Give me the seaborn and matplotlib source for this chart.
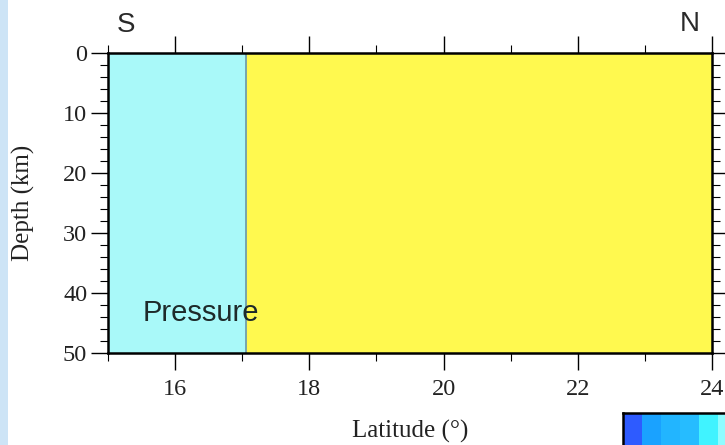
import numpy as np
import matplotlib
matplotlib.use("Agg")
import matplotlib.pyplot as plt
from matplotlib.patches import Rectangle
from matplotlib.colors import ListedColormap
import seaborn as sns

# data
lat_range = [15, 24]
depth_range = [0, 50]
boundary_lat = 17.05
zone_colors = ["#a9f9f9", "#fff94f"]  # pressure side, other side
x_ticks = [16, 18, 20, 22, 24]
y_ticks = [0, 10, 20, 30, 40, 50]
cbar_colors = ["#2e5bff", "#1aa2ff", "#22b5ff", "#26bcff", "#40f3ff", "#8ffcff"]

sns.set_theme(style="ticks")
plt.rcParams["font.family"] = ["Liberation Serif", "DejaVu Serif"]

fig = plt.figure(figsize=(7.25, 4.45), dpi=100)
fig.patch.set_facecolor("white")
# slide background strip on the left edge
fig.patches.append(Rectangle((0, 0), 8 / 725, 1, transform=fig.transFigure,
                             facecolor="#cde4f6", edgecolor="none", zorder=0))

ax = fig.add_axes([108 / 725, 92 / 445, 604 / 725, 300 / 445])

depth = np.array(depth_range)
ax.fill_betweenx(depth, lat_range[0], boundary_lat, color=zone_colors[0], lw=0)
ax.fill_betweenx(depth, boundary_lat, lat_range[1], color=zone_colors[1], lw=0)
sns.lineplot(x=[boundary_lat, boundary_lat], y=depth_range, ax=ax,
             color="#6f9fab", lw=1.3, sort=False, estimator=None)

ax.set_xlim(*lat_range)
ax.set_ylim(depth_range[1], depth_range[0])
ax.set_xticks(x_ticks)
ax.set_xticks(np.arange(15, 24.5, 1), minor=True)
ax.set_yticks(y_ticks)
ax.set_yticks(np.arange(0, 51, 2), minor=True)
ax.tick_params(which="both", direction="out", top=True, right=True,
               labeltop=False, labelright=False, color="black",
               labelsize=17.5, labelcolor="#222222")
ax.tick_params(which="major", length=12, width=1.0, pad=3)
ax.tick_params(axis="x", which="major", pad=7)
ax.tick_params(which="minor", length=6, width=0.8)
for s in ax.spines.values():
    s.set_linewidth(1.8)
    s.set_color("black")

ax.set_xlabel("Latitude (°)", fontsize=18, labelpad=14, color="#222222")
ax.set_ylabel("Depth (km)", fontsize=18, labelpad=20, color="#222222")

ax.text(15.52, 43.3, "Pressure", family="Liberation Sans", fontsize=21,
        color="#1e2a2a", va="center", ha="left")
fig.text(126 / 725, 1 - 25 / 445, "S", family="Liberation Sans", fontsize=20,
         color="#2a2a2a", ha="center", va="center")
fig.text(690 / 725, 1 - 24 / 445, "N", family="Liberation Sans", fontsize=20,
         color="#2a2a2a", ha="center", va="center")

# colour scale, cut off by the right and bottom edges
cax = fig.add_axes([623 / 725, -20 / 445, 114 / 725, 52 / 445])
cax.imshow(np.arange(len(cbar_colors))[None, :], aspect="auto",
           cmap=ListedColormap(cbar_colors))
cax.set_xticks([])
cax.set_yticks([])
for s in cax.spines.values():
    s.set_linewidth(1.8)
    s.set_color("black")

fig.savefig("out.png", dpi=100)
